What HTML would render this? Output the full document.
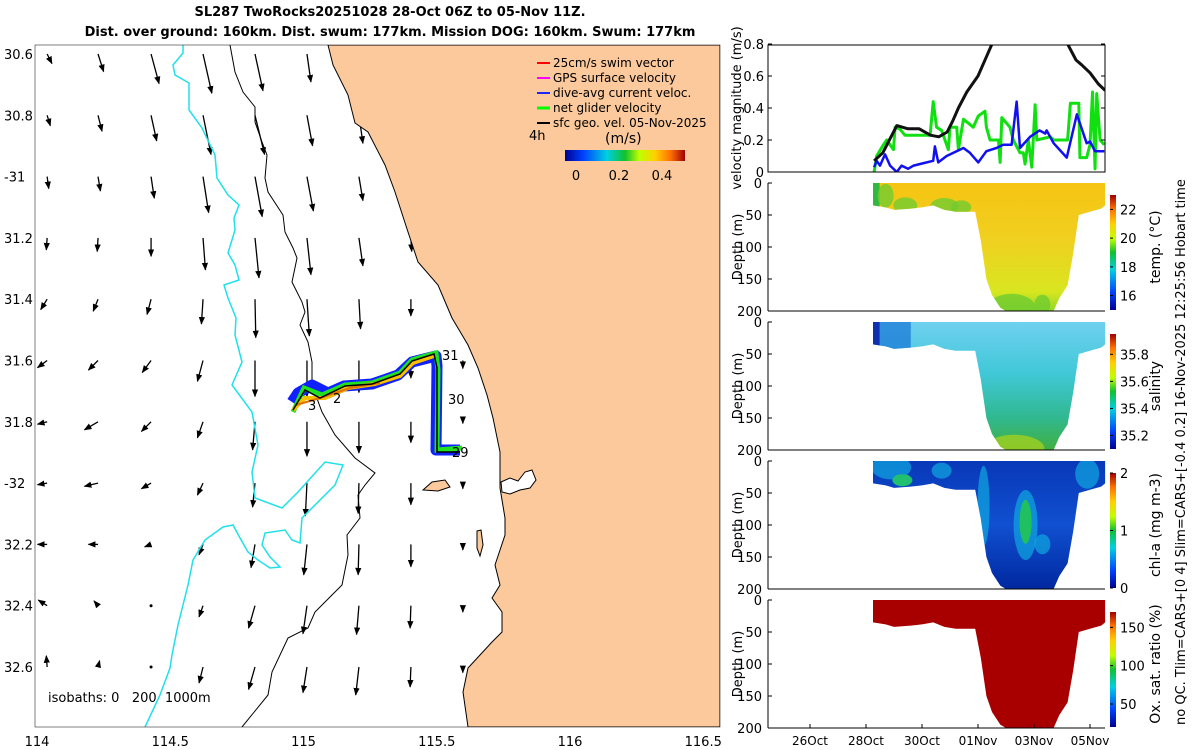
<!DOCTYPE html>
<html><head><meta charset="utf-8">
<style>
body{margin:0;background:#fff;}
svg{display:block;font-family:"DejaVu Sans","Liberation Sans",sans-serif;}
</style></head>
<body>
<svg id="fig" width="1200" height="750" viewBox="0 0 1200 750">
<defs>
  <linearGradient id="jet" x1="0" y1="1" x2="0" y2="0">
    <stop offset="0" stop-color="#000090"/><stop offset="0.15" stop-color="#0040ff"/>
    <stop offset="0.35" stop-color="#00d0e0"/><stop offset="0.5" stop-color="#10c030"/>
    <stop offset="0.62" stop-color="#c0ff00"/><stop offset="0.75" stop-color="#ffd000"/>
    <stop offset="0.88" stop-color="#ff7000"/><stop offset="1" stop-color="#a00000"/>
  </linearGradient>
  <linearGradient id="jeth" x1="0" y1="0" x2="1" y2="0">
    <stop offset="0" stop-color="#000090"/><stop offset="0.15" stop-color="#0040ff"/>
    <stop offset="0.35" stop-color="#00d0e0"/><stop offset="0.5" stop-color="#10c030"/>
    <stop offset="0.62" stop-color="#c0ff00"/><stop offset="0.75" stop-color="#ffd000"/>
    <stop offset="0.88" stop-color="#ff7000"/><stop offset="1" stop-color="#a00000"/>
  </linearGradient>
  <linearGradient id="gTemp" x1="0" y1="0" x2="0" y2="1">
    <stop offset="0" stop-color="#f6c412"/><stop offset="0.45" stop-color="#f0d020"/><stop offset="0.85" stop-color="#d8e620"/><stop offset="1" stop-color="#90d828"/>
  </linearGradient>
  <linearGradient id="gSal" x1="0" y1="0" x2="0" y2="1">
    <stop offset="0" stop-color="#70d0f0"/><stop offset="0.4" stop-color="#40c8d8"/><stop offset="0.75" stop-color="#30b890"/><stop offset="1" stop-color="#40b040"/>
  </linearGradient>
  <linearGradient id="gChl" x1="0" y1="0" x2="0" y2="1">
    <stop offset="0" stop-color="#0838b8"/><stop offset="0.5" stop-color="#1050d0"/><stop offset="1" stop-color="#0028a0"/>
  </linearGradient>
  <clipPath id="mapclip"><rect x="35" y="45" width="685" height="682"/></clipPath>
  <clipPath id="velclip"><rect x="768" y="45" width="337" height="127"/></clipPath>
  <marker id="ah" viewBox="0 0 10 10" refX="9" refY="5" markerWidth="6" markerHeight="6" orient="auto"><path d="M0,1 L10,5 L0,9 z" fill="#000"/></marker>
</defs>

<text x="390" y="16" text-anchor="middle" font-size="13" font-weight="bold">SL287 TwoRocks20251028 28-Oct 06Z to 05-Nov 11Z.</text>
<text x="390" y="36" text-anchor="middle" font-size="13" font-weight="bold">Dist. over ground: 160km. Dist. swum: 177km. Mission DOG: 160km. Swum: 177km</text>

<g id="map">
  <rect x="35" y="45" width="685" height="682" fill="#fff"/>
  <g id="arrows" clip-path="url(#mapclip)"></g>
  <g clip-path="url(#mapclip)">
    <polyline fill="none" stroke="#20e0e8" stroke-width="1.5" points="183,45 183,53 173,65 175,75 189,83 189,110 202,128 215,155 217,178 228,195 239,205 234,218 235,230 228,253 235,265 239,280 224,285 228,298 236,318 235,335 242,362 232,385 252,412 258,445 252,472 255,498 282,508 298,492 325,462 343,465 335,485 302,518 300,543 292,540 285,530 265,533 262,545 270,557 280,567 270,568 258,560 248,552 240,538 233,525 223,527 205,540 193,560 188,585 178,625 172,655 170,668 160,695 145,727"/>
    <polyline fill="none" stroke="#000" stroke-width="1" points="230,45 235,72 243,92 255,107 255,122 262,142 267,155 265,178 268,192 283,215 285,232 293,248 297,258 292,282 302,302 305,312 300,325 308,342 312,362 312,385 322,412 335,435 355,458 375,473 365,485 358,495 360,518 347,535 348,555 342,585 332,595 315,612 308,628 288,638 272,672 268,695 242,727"/>
    <polygon id="land" fill="#fbc99b" stroke="#000" stroke-width="1" points="328,45 333,65 348,95 355,123 368,132 385,165 395,192 408,232 418,262 438,285 452,318 468,345 478,368 487,395 493,418 500,452 500,488 505,518 505,535 495,565 500,585 492,598 502,612 502,632 492,642 468,668 463,692 468,727 720,727 720,45"/>
    <polygon fill="#fff" stroke="#000" stroke-width="1" points="501,482 510,478 518,481 525,472 532,470 536,480 530,488 520,490 510,494 502,492"/>
    <polygon fill="#fbc99b" stroke="#000" stroke-width="1" points="423,490 432,482 445,480 450,487 438,491"/>
    <polygon fill="#fbc99b" stroke="#000" stroke-width="1" points="477,531 481,530 483,545 480,556 477,548"/>
    <g id="track">
      <polyline fill="none" stroke="#1020ff" stroke-width="11" stroke-linejoin="round" points="292,402 298,393 312,385 328,393 344,386 372,384 398,375 412,362 436,356 437,366 436,450 460,450"/>
      <polyline fill="none" stroke="#20e020" stroke-width="5" points="293,412 304,388 322,395 345,385 372,383 400,373 412,360 436,353 438,370 437,450 462,448"/>
      <polyline fill="none" stroke="#f8c000" stroke-width="4" points="293,410 305,398 325,398 348,388 375,384 400,376 413,363 434,356"/>
      <polyline fill="none" stroke="#e07000" stroke-width="2" points="296,405 320,398 350,388 380,383"/>
      <polyline fill="none" stroke="#000" stroke-width="1.5" points="293,410 305,390 320,398 345,386 372,384 400,374 412,361 434,354 437,368 437,452 460,452"/>
    </g>
    <text x="442" y="360" font-size="13">31</text>
    <text x="448" y="404" font-size="13">30</text>
    <text x="452" y="457" font-size="13">29</text>
    <text x="308" y="410" font-size="13">3</text>
    <text x="333" y="403" font-size="13">2</text>
  </g>
  <rect x="35" y="45" width="685" height="682" fill="none" stroke="#000" stroke-width="0.5"/>
  <g id="legend" font-size="12">
    <line x1="537" y1="63" x2="550" y2="63" stroke="#f00" stroke-width="2"/><text x="553" y="67">25cm/s swim vector</text>
    <line x1="537" y1="78" x2="550" y2="78" stroke="#f0f" stroke-width="2"/><text x="553" y="82">GPS surface velocity</text>
    <line x1="537" y1="93" x2="550" y2="93" stroke="#22f" stroke-width="2"/><text x="553" y="97">dive-avg current veloc.</text>
    <line x1="537" y1="108" x2="550" y2="108" stroke="#0f0" stroke-width="3"/><text x="553" y="112">net glider velocity</text>
    <line x1="537" y1="123" x2="550" y2="123" stroke="#000" stroke-width="2"/><text x="553" y="127">sfc geo. vel. 05-Nov-2025</text>
    <text x="529" y="140" font-size="13">4h</text>
    <text x="605" y="143" font-size="14">(m/s)</text>
    <rect x="565" y="150" width="120" height="11" fill="url(#jeth)"/>
    <text x="576" y="180" text-anchor="middle" font-size="13">0</text>
    <text x="619" y="180" text-anchor="middle" font-size="13">0.2</text>
    <text x="662" y="180" text-anchor="middle" font-size="13">0.4</text>
  </g>
  <text x="48" y="702" font-size="13" style="white-space:pre">isobaths: 0   200  1000m</text>
  <g id="maplab" font-size="13"></g>
</g>

<g id="right"></g>
<text transform="translate(1185,725) rotate(-90)" font-size="13">no QC. Tlim=CARS+[0 4] Slim=CARS+[-0.4 0.2] 16-Nov-2025 12:25:56 Hobart time</text>
</svg>

<script>
// ---------- map data ----------
const latTicks = ["30.6","30.8","-31","31.2","31.4","31.6","31.8","-32","32.2","32.4","32.6"];
const latVals = [-30.6,-30.8,-31,-31.2,-31.4,-31.6,-31.8,-32,-32.2,-32.4,-32.6];
const lonTicks = ["114","114.5","115","115.5","116","116.5"];
const lonVals = [114,114.5,115,115.5,116,116.5];
const arrowLons = [114.038,114.229,114.428,114.623,114.818,115.013,115.208,115.403,115.598];
const arrowLats = [-30.6,-30.8,-31.0,-31.2,-31.4,-31.6,-31.8,-32.0,-32.2,-32.4,-32.6];
const arrowU = [
 [.06,.07,.10,.11,.10,.05,.05,.03,.0],
 [.04,.05,.07,.10,.12,.07,.05,.03,.0],
 [.02,.03,.04,.07,.09,.08,.05,.03,.0],
 [-.01,-.01,.0,.03,.05,.05,.05,.01,.0],
 [-.08,-.06,-.05,-.02,.01,.03,.02,.0,.0],
 [-.12,-.12,-.11,-.07,.0,.0,.0,.0,.0],
 [-.12,-.17,-.12,-.07,-.03,.0,.0,.0,.0],
 [-.12,-.17,-.12,-.07,-.03,-.02,-.01,.0,.0],
 [-.12,-.12,-.08,-.05,-.05,-.04,-.01,.0,.0],
 [-.11,-.05,.0,-.05,-.08,-.05,-.03,-.01,.0],
 [-.01,.02,.0,-.05,-.08,-.05,-.04,-.01,.0]];
const arrowV = [
 [-.12,-.22,-.37,-.49,-.46,-.35,-.35,-.3,-.2],
 [-.13,-.20,-.32,-.49,-.49,-.38,-.35,-.3,-.2],
 [-.15,-.18,-.27,-.45,-.50,-.43,-.30,-.3,-.2],
 [-.15,-.17,-.23,-.40,-.50,-.46,-.35,-.17,-.2],
 [-.13,-.15,-.19,-.31,-.48,-.46,-.37,-.21,-.2],
 [-.09,-.12,-.15,-.26,-.45,-.45,-.40,-.22,-.1],
 [-.03,-.10,-.12,-.20,-.35,-.43,-.39,-.26,-.02],
 [-.02,-.04,-.07,-.15,-.30,-.41,-.38,-.27,-.07],
 [.0,.0,-.03,-.13,-.29,-.38,-.38,-.28,-.07],
 [.07,.06,.0,-.14,-.28,-.35,-.36,-.28,-.08],
 [.14,.08,.0,-.20,-.28,-.32,-.35,-.25,-.07]];
// ---------- velocity data (day of Oct, m/s) ----------
const blackT = [28.29,28.6,29.1,29.5,29.9,30.3,30.6,30.9,31.1,31.3,31.6,32.0,32.3,32.5,32.7,35.0,35.2,35.5,35.7,36.0,36.3,36.54];
const blackV = [0.07,0.12,0.29,0.27,0.27,0.23,0.22,0.25,0.32,0.40,0.50,0.60,0.72,0.80,0.90,0.90,0.80,0.70,0.67,0.62,0.55,0.51];
const greenT = [28.29,28.38,28.62,28.74,28.98,29.04,29.2,29.39,29.93,30.29,30.4,30.52,30.7,30.94,31.0,31.24,31.3,31.48,31.83,32.01,32.25,32.3,32.43,32.73,32.79,32.85,33.14,33.26,33.5,33.62,33.68,33.8,33.92,34.04,34.1,34.58,34.7,35.2,35.3,35.6,35.64,35.88,36.0,36.09,36.18,36.24,36.36,36.51];
const greenV = [0.0,0.10,0.17,0.20,0.14,0.28,0.27,0.23,0.23,0.23,0.44,0.28,0.26,0.14,0.28,0.28,0.14,0.33,0.28,0.35,0.38,0.28,0.20,0.20,0.06,0.34,0.28,0.20,0.12,0.12,0.05,0.20,0.03,0.42,0.20,0.22,0.20,0.20,0.43,0.43,0.09,0.09,0.17,0.50,0.02,0.49,0.20,0.17];
const blueT = [28.29,28.38,28.5,28.68,28.86,29.1,29.27,29.5,29.7,29.93,30.4,30.46,30.58,30.88,31.48,31.71,32.01,32.3,32.66,32.9,33.2,33.38,33.5,33.86,34.2,34.4,34.45,34.7,35.17,35.53,35.88,36.0,36.18,36.51];
const blueV = [0.03,0.07,0.04,0.11,0.04,0.0,0.04,0.02,0.04,0.05,0.07,0.16,0.06,0.10,0.15,0.12,0.06,0.13,0.15,0.17,0.17,0.44,0.15,0.22,0.26,0.24,0.26,0.18,0.09,0.36,0.18,0.19,0.13,0.13];
// ---------- section envelope (day, max depth m) ----------
const secT = [28.25,28.7,29.0,29.6,30.0,30.4,30.8,31.2,31.9,32.1,32.3,32.5,32.8,33.0,34.7,34.9,35.2,35.4,35.6,36.0,36.4,36.54];
const secD = [35,38,42,40,38,35,42,45,45,90,150,175,195,200,200,180,160,110,50,45,40,35];
const dateTicks = ["26Oct","28Oct","30Oct","01Nov","03Nov","05Nov"];
const dateVals = [26,28,30,32,34,36];
const velTicks = [0,0.2,0.4,0.6,0.8];
const depthTicks = [0,50,100,150,200];
const cbars = [
 {name:"temp", label:"temp. (°C)", min:15, max:23, ticks:[16,18,20,22]},
 {name:"salinity", label:"salinity", min:35.1, max:35.95, ticks:[35.2,35.4,35.6,35.8]},
 {name:"chl-a", label:"chl-a (mg m-3)", min:0, max:2, ticks:[0,1,2]},
 {name:"oxygen", label:"Ox. sat. ratio (%)", min:20, max:170, ticks:[50,100,150]}];

const NS="http://www.w3.org/2000/svg";
function mk(tag, attrs, parent){const e=document.createElementNS(NS,tag);for(const k in attrs)e.setAttribute(k,attrs[k]);parent.appendChild(e);return e;}
const lonX = lon => 37 + (lon-114)*266.5;
const latY = lat => 54 + (-30.6-lat)*306.5;
const X = d => 810 + (d-26)*28;
const VY = v => 172 - v*160;

const ag=document.getElementById('arrows');
for(let r=0;r<arrowLats.length;r++)for(let c=0;c<arrowLons.length;c++){
  const x0=lonX(arrowLons[c]), y0=latY(arrowLats[r]);
  const x1=x0+arrowU[r][c]*80, y1=y0-arrowV[r][c]*80;
  if(Math.abs(x1-x0)+Math.abs(y1-y0)<1){
    const d=mk('circle',{cx:x0,cy:y0,r:1.5,fill:'#000'},ag);
    
    
    continue;
  }
  const a=mk('line',{x1:x0,y1:y0,x2:x1,y2:y1,stroke:'#000','stroke-width':1.3,'marker-end':'url(#ah)'},ag);
  
  
}

const ml=document.getElementById('maplab');
latTicks.forEach((t,i)=>{const e=mk('text',{x:4,y:latY(latVals[i])+5},ml);e.textContent=t;
  
  });
lonTicks.forEach((t,i)=>{const e=mk('text',{x:lonX(lonVals[i]),y:746,'text-anchor':'middle'},ml);e.textContent=t;
  
  });

const R=document.getElementById('right');
function axisFrame(name){
  const g=mk('g',{},R);
  
  
  return g;
}
const vg=axisFrame('velocity-panel');
const vc=mk('g',{'clip-path':'url(#velclip)'},vg);
function series(T,V,color,w,name){
  const p=mk('polyline',{fill:'none',stroke:color,'stroke-width':w,'stroke-linejoin':'round',points:T.map((t,i)=>X(t)+','+VY(V[i])).join(' ')},vc);
  
  
}
series(greenT,greenV,'#10e010',3,'net-glider-velocity-line');
series(blueT,blueV,'#1010f0',2.5,'dive-avg-current-line');
series(blackT,blackV,'#111',3,'surface-geo-velocity-line');
mk('rect',{x:768,y:45,width:337,height:127,fill:'none',stroke:'#000','stroke-width':1},vg);
velTicks.forEach(v=>{const y=VY(v);
  mk('line',{x1:768,y1:y,x2:772,y2:y,stroke:'#000'},vg);mk('line',{x1:1101,y1:y,x2:1105,y2:y,stroke:'#000'},vg);
  const t=mk('text',{x:764,y:y+5,'text-anchor':'end','font-size':13},vg);t.textContent=v===0?'0':v.toFixed(1);
  
  });
const vl=mk('text',{transform:'translate(741,108) rotate(-90)','text-anchor':'middle','font-size':13},vg);vl.textContent='velocity magnitude (m/s)';



const tops=[183,322,461,600];
const fills=['url(#gTemp)','url(#gSal)','url(#gChl)','#a80000'];
tops.forEach((top,k)=>{
  const g=axisFrame(cbars[k].name+'-section-panel');
  const DY=d=>top+d*0.64;
  let pts=secT.map((t,i)=>X(t)+','+DY(secD[i]));
  pts=[X(secT[0])+','+DY(0)].concat(pts).concat([X(secT[secT.length-1])+','+DY(0)]);
  const cid='sc'+k;
  const cp=mk('clipPath',{id:cid},g);mk('polygon',{points:pts.join(' ')},cp);
  const sg=mk('g',{'clip-path':'url(#'+cid+')'},g);
  const body=mk('rect',{x:X(28.2),y:top,width:X(36.6)-X(28.2),height:128,fill:fills[k]},sg);
  
  
  if(k===0){
    mk('rect',{x:X(28.2),y:top,width:8,height:30,fill:'#30b840'},sg);
    [[29.4,35,12,8],[30.8,36,14,8],[31.4,38,10,7],[28.7,20,8,12],[33.2,195,24,14],[34.3,190,8,10]].forEach(b=>mk('ellipse',{cx:X(b[0]),cy:DY(b[1]),rx:b[2],ry:b[3],fill:'#70cc30',opacity:0.8},sg));
  }
  if(k===1){
    mk('rect',{x:X(28.2),y:top,width:X(29.6)-X(28.2),height:30,fill:'#2080d8',opacity:0.8},sg);
    mk('rect',{x:X(28.2),y:top,width:8,height:30,fill:'#1030b0'},sg);
    [[33.3,198,30,14]].forEach(b=>mk('ellipse',{cx:X(b[0]),cy:DY(b[1]),rx:b[2],ry:b[3],fill:'#a0d020',opacity:0.8},sg));
  }
  if(k===2){
    [[28.9,10,20,12],[32.2,70,6,40],[33.7,100,12,35],[34.3,130,8,10],[30.7,15,10,8],[35.9,20,12,15]].forEach(b=>mk('ellipse',{cx:X(b[0]),cy:DY(b[1]),rx:b[2],ry:b[3],fill:'#10a8e0',opacity:0.7},sg));
    mk('ellipse',{cx:X(33.7),cy:DY(95),rx:6,ry:22,fill:'#20c060'},sg);
    mk('ellipse',{cx:X(29.3),cy:DY(30),rx:10,ry:6,fill:'#20c070'},sg);
  }
  mk('line',{x1:768,y1:top,x2:768,y2:top+128,stroke:'#000'},g);
  mk('line',{x1:768,y1:top+128,x2:1105,y2:top+128,stroke:'#000'},g);
  depthTicks.forEach(d=>{const y=DY(d);
    mk('line',{x1:768,y1:y,x2:772,y2:y,stroke:'#000'},g);
    const t=mk('text',{x:762,y:y+5,'text-anchor':'end','font-size':13},g);t.textContent=d;
    
    });
  const yl=mk('text',{transform:'translate(742,'+(top+64)+') rotate(-90)','text-anchor':'middle','font-size':13},g);yl.textContent='Depth (m)';
  
  
  const cb=cbars[k]; const cy0=top+12, ch=115;
  const bar=mk('rect',{x:1110,y:cy0,width:6,height:ch,fill:'url(#jet)'},g);
  
  
  cb.ticks.forEach(v=>{const y=cy0+ch-(v-cb.min)/(cb.max-cb.min)*ch;
    mk('line',{x1:1110,y1:y,x2:1113,y2:y,stroke:'#000'},g);
    const t=mk('text',{x:1120,y:y+5,'font-size':13},g);t.textContent=v;
    
    });
  const cl=mk('text',{transform:'translate(1160,'+(top+64)+') rotate(-90)','text-anchor':'middle','font-size':14},g);cl.textContent=cb.label;
  
  
});
dateVals.forEach((d,i)=>{const x=X(d);
  mk('line',{x1:x,y1:728,x2:x,y2:724,stroke:'#000'},R);
  const t=mk('text',{x:x,y:745,'text-anchor':'middle','font-size':12},R);t.textContent=dateTicks[i];
  
  });
</script>
</body></html>
